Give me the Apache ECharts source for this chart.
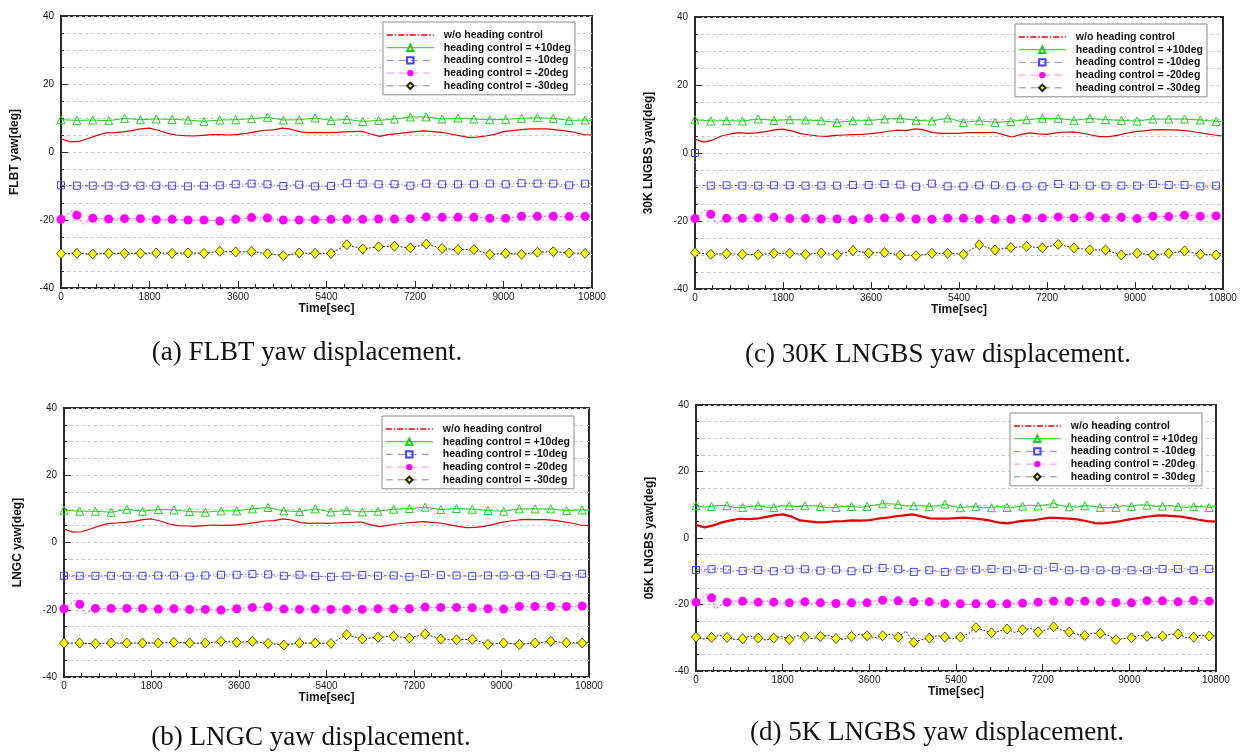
<!DOCTYPE html>
<html>
<head>
<meta charset="utf-8">
<script src="https://cdn.jsdelivr.net/npm/echarts@6/dist/echarts.min.js"></script>
<style>
html,body{margin:0;padding:0;background:#fff}
#chart{width:1242px;height:752px}
</style>
</head>
<body>
<div id="chart"></div>
<script>
// ---- sample times (s) ----
const markT = [0,323,646,969,1292,1615,1938,2261,2584,2907,3230,3553,3876,4199,4522,4845,5168,5491,5814,6137,6460,6783,7106,7429,7752,8075,8398,8721,9044,9367,9690,10013,10336,10659];
const midT = [161,484,807,1130,1453,1776,2099,2422,2745,3068,3391,3714,4037,4360,4683,5006,5329,5652,5975,6298,6621,6944,7267,7590,7913,8236,8559,8882,9205,9528,9851,10174,10497];
const redT = [0,180,360,540,720,900,1080,1260,1440,1620,1800,1980,2160,2340,2520,2700,2880,3060,3240,3420,3600,3780,3960,4140,4320,4500,4680,4860,5040,5220,5400,5580,5760,5940,6120,6300,6480,6660,6840,7020,7200,7380,7560,7740,7920,8100,8280,8460,8640,8820,9000,9180,9360,9540,9720,9900,10080,10260,10440,10620,10800];
const endT = 10800;

// ---- legend entries / axis titles / captions ----
const seriesNames = ['w/o heading control','heading control = +10deg','heading control = -10deg','heading control = -20deg','heading control = -30deg'];
const yTitles = ['FLBT yaw[deg]','LNGC yaw[deg]','30K LNGBS yaw[deg]','05K LNGBS yaw[deg]'];
const captions = ['(a) FLBT yaw displacement.','(b) LNGC yaw displacement.','(c) 30K LNGBS yaw displacement.','(d) 5K LNGBS yaw displacement.'];

// ---- (a) FLBT ----
const redA = [3.9,3.0,3.1,3.9,4.8,5.6,5.7,5.9,6.3,6.8,7.0,6.4,5.5,5.0,4.8,4.7,4.9,5.1,5.1,5.0,5.2,5.5,6.0,6.4,6.5,7.0,6.7,5.9,5.7,5.8,5.7,5.8,5.9,6.0,6.1,5.3,4.6,5.1,5.4,5.7,6.0,6.2,6.0,5.8,5.3,4.8,4.3,4.4,4.7,5.2,6.0,6.3,6.6,6.8,6.8,6.8,6.5,6.2,5.8,5.1,5.0];
const greenA = [9.5,9.3,9.4,9.2,9.9,9.5,9.7,9.6,9.4,9.0,9.4,9.5,9.8,10.2,9.4,9.5,10.0,9.3,9.6,9.0,9.3,9.7,10.3,10.3,9.7,10.0,9.7,9.5,9.6,9.9,10.1,9.9,9.3,9.4];
const blueA = [-9.8,-9.9,-9.9,-9.9,-9.9,-9.9,-9.9,-9.9,-10.1,-9.9,-9.8,-9.5,-9.3,-9.5,-10.0,-9.6,-10.1,-10.0,-9.2,-9.3,-9.5,-9.5,-9.9,-9.3,-9.5,-9.5,-9.5,-9.3,-9.5,-9.2,-9.3,-9.3,-9.8,-9.3];
const magentaA = [-19.8,-18.6,-19.5,-19.7,-19.6,-19.6,-19.9,-19.8,-20.0,-20.0,-20.3,-19.8,-19.3,-19.4,-20.0,-20.0,-19.9,-19.8,-19.8,-19.8,-19.7,-19.7,-19.6,-19.1,-19.2,-19.2,-19.2,-19.5,-19.5,-18.9,-18.9,-18.9,-19.0,-18.9];
const blackA = [-29.9,-29.8,-30.0,-29.8,-29.8,-29.8,-29.7,-29.8,-29.7,-29.8,-29.2,-29.4,-29.3,-29.9,-30.5,-29.7,-29.8,-29.8,-27.3,-28.5,-27.9,-27.7,-28.2,-27.1,-28.4,-28.7,-28.7,-30.1,-29.8,-30.1,-29.5,-29.3,-29.7,-29.8];
const magentaStartA = [[250,-17.0],[454,-21.2]];
const tailA = [9.3,-9.4,-18.9,-29.3];

// ---- (b) LNGC ----
const redB = [4.0,3.1,3.2,4.0,4.9,5.6,5.8,6.0,6.3,6.8,7.0,6.4,5.5,5.0,4.9,4.8,5.0,5.2,5.1,5.1,5.3,5.6,6.0,6.4,6.5,7.0,6.7,5.9,5.7,5.8,5.7,5.8,5.9,6.0,6.1,5.3,4.7,5.1,5.5,5.8,6.0,6.2,6.0,5.8,5.3,4.8,4.4,4.5,4.8,5.3,6.0,6.4,6.7,6.9,6.8,6.8,6.6,6.2,5.8,5.2,5.0];
const greenB = [9.6,9.3,9.3,9.0,9.9,9.3,9.8,9.7,9.2,9.0,9.4,9.4,10.0,10.4,9.4,9.2,10.0,9.1,9.5,9.1,9.3,9.9,10.1,10.5,9.8,10.1,9.9,9.5,9.3,10.0,10.0,10.0,9.5,9.7];
const blueB = [-9.9,-9.9,-9.9,-9.9,-9.9,-9.9,-9.8,-9.8,-10.1,-9.8,-9.6,-9.6,-9.4,-9.5,-9.9,-9.6,-10.0,-10.2,-9.9,-9.7,-9.9,-9.8,-10.2,-9.4,-9.7,-9.8,-10.0,-9.8,-9.8,-9.8,-9.8,-9.4,-10.0,-9.3];
const magentaB = [-19.7,-18.4,-19.6,-19.6,-19.6,-19.6,-19.8,-19.7,-19.9,-19.9,-20.1,-19.7,-19.3,-19.2,-19.8,-19.9,-19.8,-19.9,-19.9,-19.9,-19.7,-19.7,-19.7,-19.2,-19.3,-19.3,-19.4,-19.7,-19.8,-19.0,-19.0,-19.0,-19.0,-18.9];
const blackB = [-29.9,-29.9,-30.1,-29.9,-29.9,-29.9,-29.9,-29.7,-29.9,-29.9,-29.4,-29.7,-29.4,-30.0,-30.5,-29.9,-29.9,-30.0,-27.4,-28.7,-28.2,-27.9,-28.4,-27.2,-28.7,-28.9,-28.8,-30.3,-29.9,-30.3,-29.9,-29.4,-29.8,-29.9];
const magentaStartB = [[260,-16.9],[430,-21.2]];
const tailB = [9.6,-9.4,-18.9,-29.6];

// ---- (c) 30K LNGBS ----
const redC = [4.1,3.2,3.8,5.0,5.6,6.0,5.8,5.9,6.3,6.8,7.0,6.5,5.7,5.3,5.0,4.9,5.2,5.3,5.4,5.5,5.7,6.0,6.4,6.7,6.6,7.1,6.8,6.0,5.8,5.8,5.8,6.0,6.0,6.0,6.1,5.4,4.7,5.4,5.9,5.6,5.5,5.9,6.1,6.2,5.8,5.3,4.8,4.8,5.2,5.8,6.3,6.5,6.8,6.9,6.8,6.7,6.5,6.1,5.7,5.3,5.0];
const greenC = [9.8,9.4,9.5,9.4,10.0,9.6,9.8,9.7,9.5,9.0,9.5,9.5,10.0,10.2,9.6,9.4,10.3,9.0,9.5,9.0,9.3,9.8,10.2,10.2,9.6,10.2,9.8,9.6,9.4,10.0,10.0,10.0,9.7,9.3];
const blueC = [0,-9.6,-9.5,-9.6,-9.6,-9.5,-9.5,-9.6,-9.6,-9.6,-9.4,-9.4,-9.1,-9.3,-9.9,-9.0,-9.8,-9.8,-9.5,-9.5,-9.8,-9.8,-9.8,-9.1,-9.6,-9.6,-9.6,-9.6,-9.6,-9.1,-9.4,-9.4,-9.8,-9.6];
const magentaC = [-19.3,-18.0,-19.2,-19.2,-19.1,-18.9,-19.3,-19.3,-19.4,-19.4,-19.6,-19.3,-19.1,-19.0,-19.4,-19.5,-19.2,-19.2,-19.5,-19.5,-19.5,-19.2,-19.1,-18.8,-19.1,-18.7,-19.1,-18.9,-19.3,-18.6,-18.7,-18.3,-18.6,-18.5];
const blackC = [-29.3,-29.8,-29.6,-29.8,-29.9,-29.5,-29.5,-29.8,-29.4,-29.9,-28.7,-29.4,-29.3,-30.0,-30.2,-29.5,-29.5,-29.8,-27.0,-28.5,-27.8,-27.5,-27.9,-26.9,-27.9,-28.5,-28.5,-30.0,-29.5,-30.0,-29.5,-28.8,-29.8,-30.0];
const magentaStartC = [[225,-16.6],[443,-20.7]];
const blueStartC = [[3,-9.6]];
const tailC = [9.3,-9.6,-18.5,-29.3];

// ---- (d) 5K LNGBS ----
const redD = [3.9,3.2,3.8,4.7,5.3,5.8,5.7,5.8,6.3,6.8,7.1,6.5,5.3,5.0,4.7,4.8,5.0,5.1,5.3,5.2,5.4,5.8,6.1,6.5,6.8,7.1,6.5,5.9,5.8,5.8,6.0,6.1,5.9,5.6,5.2,4.6,4.4,4.9,5.2,5.4,5.8,6.1,6.0,5.8,5.6,5.1,4.5,4.4,4.7,5.1,5.6,6.0,6.4,6.7,6.8,6.6,6.4,6.0,5.5,5.1,4.9];
const greenD = [9.7,9.5,9.7,9.2,9.7,9.2,9.7,9.7,9.5,9.2,9.5,9.5,10.3,10.1,9.7,9.5,10.2,9.1,9.4,9.1,9.2,9.6,9.6,10.4,9.4,9.7,9.2,9.2,9.5,9.9,9.6,9.4,9.4,9.2];
const greenMidD = [9.3,9.8,9.2,9.5,9.3,9.6,9.4,9.7,9.1,9.5,9.2,9.9,10.3,9.6,9.7,9.6,9.5,9.4,9.1,9.5,9.3,9.9,10.0,9.7,9.3,9.6,9.1,9.7,10.0,9.5,9.7,9.2,9.5];
const blueD = [-9.6,-9.4,-9.5,-9.9,-9.6,-10.0,-9.5,-9.4,-9.8,-9.5,-10.0,-9.4,-9.0,-9.4,-10.2,-9.7,-10.2,-9.7,-9.5,-9.3,-9.7,-9.3,-9.7,-8.7,-9.7,-9.7,-9.7,-9.7,-9.7,-9.7,-9.3,-9.3,-9.7,-9.3];
const blueMidD = [-9.6,-9.2,-9.8,-9.3,-9.7,-9.4,-9.1,-9.6,-9.2,-9.7,-9.4,-9.0,-9.3,-9.8,-9.6,-9.9,-9.5,-9.3,-9.6,-9.1,-9.7,-9.3,-9.1,-9.5,-9.8,-9.4,-9.7,-9.3,-9.8,-9.1,-9.5,-9.3,-9.6];
const magentaD = [-19.3,-18.0,-19.3,-19.0,-19.3,-19.3,-19.5,-19.2,-19.5,-19.7,-19.5,-19.5,-18.7,-18.9,-19.2,-19.2,-19.7,-19.8,-19.8,-19.8,-19.8,-19.6,-19.3,-19.0,-19.1,-19.0,-19.2,-19.4,-19.5,-18.9,-18.9,-19.2,-18.8,-19.0];
const magentaMidD = [null,null,-19.0,-19.4,-19.0,-19.6,-19.2,-19.7,-19.4,-19.9,-19.3,-18.9,-18.6,-19.3,-18.9,-19.6,-19.5,-20.0,-19.6,-20.0,-19.5,-19.7,-18.9,-19.3,-18.8,-19.3,-19.1,-19.7,-18.6,-19.1,-18.8,-19.2,-18.8];
const blackD = [-29.8,-29.9,-29.9,-30.3,-30.1,-30.1,-30.5,-29.7,-29.6,-30.2,-29.6,-29.4,-29.4,-29.8,-31.4,-30.1,-29.8,-29.8,-26.9,-28.5,-27.4,-27.6,-28.2,-26.7,-28.3,-29.3,-28.7,-30.6,-30.0,-29.6,-29.5,-28.9,-29.8,-29.5];
const blackMidD = [-30.4,-29.3,-30.6,-29.5,-30.7,-29.6,-29.4,-30.3,-29.2,-30.5,-29.0,-30.0,-28.9,-28.0,-30.6,-29.4,-30.3,-28.8,-27.8,-28.0,-28.4,-27.2,-27.6,-27.7,-28.9,-28.6,-29.2,-30.3,-29.3,-30.1,-29.0,-29.9,-29.2];
const magentaStartD = [[228,-17.0],[395,-21.3]];
const tailD = [9.4,-9.3,-19.0,-29.5];

// ---- colours ----
const RED = '#e40000', GREEN = '#1fcf1f', BLUE = '#4343ff', MAGENTA = '#ff00ff', DARK = '#2a2a2a', YELLOW = '#ffff00';

// per-panel layout
const panels = [
  { grid:{left:61, top:16, width:531, height:272}, legend:{left:383, top:22}, cap:[307,353], yTitle:yTitles[0], caption:captions[0],
    red:redA, green:greenA, blue:blueA, magenta:magentaA, black:blackA, magStart:magentaStartA, tail:tailA, redW:1.2 },
  { grid:{left:64, top:408, width:525, height:269}, legend:{left:382, top:416}, cap:[311,738], yTitle:yTitles[1], caption:captions[1],
    red:redB, green:greenB, blue:blueB, magenta:magentaB, black:blackB, magStart:magentaStartB, tail:tailB, redW:1.2 },
  { grid:{left:695, top:17, width:528, height:272}, legend:{left:1015, top:24}, cap:[938,355], yTitle:yTitles[2], caption:captions[2],
    red:redC, green:greenC, blue:blueC, magenta:magentaC, black:blackC, magStart:magentaStartC, blueStart:blueStartC, tail:tailC, redW:1.2 },
  { grid:{left:696, top:405, width:520, height:266}, legend:{left:1010, top:413}, cap:[937,733], yTitle:yTitles[3], caption:captions[3],
    red:redD, green:greenD, blue:blueD, magenta:magentaD, black:blackD, magStart:magentaStartD, tail:tailD, redW:2.2,
    greenMid:greenMidD, blueMid:blueMidD, magentaMid:magentaMidD, blackMid:blackMidD }
];

// merge marker samples, unmarked extra samples and the end sample into one sorted trace
function trace(vals, tail, extras, mids) {
  const pts = markT.map((t, i) => ({ value: [t, vals[i]] }));
  (extras || []).forEach(e => pts.push({ value: e, symbol: 'none' }));
  (mids || []).forEach((v, i) => { if (v !== null) pts.push({ value: [midT[i], v], symbol: 'none' }); });
  pts.push({ value: [endT, tail], symbol: 'none' });
  pts.sort((a, b) => a.value[0] - b.value[0]);
  return pts;
}

const FONT = 'Liberation Sans, Arial, sans-serif';
const plain = v => String(v);
const grids = [], xAxes = [], yAxes = [], legends = [], series = [], graphics = [];

panels.forEach((p, k) => {
  grids.push(Object.assign({ show: true, borderColor: '#2b2b2b', borderWidth: 2, backgroundColor: '#fff', containLabel: false }, p.grid));
  xAxes.push({
    type: 'value', gridIndex: k, min: 0, max: 10800, interval: 1800,
    name: 'Time[sec]', nameLocation: 'middle', nameGap: 13,
    nameTextStyle: { fontFamily: FONT, fontWeight: 'bold', fontSize: 12, color: '#111' },
    axisLine: { show: false, onZero: false },
    axisTick: { show: true, inside: true, length: 7, lineStyle: { color: '#2b2b2b', width: 1 } },
    minorTick: { show: true, splitNumber: 5, length: 4, lineStyle: { color: '#2b2b2b', width: 1 } },
    axisLabel: { fontFamily: FONT, fontSize: 10, color: '#1a1a1a', margin: 4, formatter: plain },
    splitLine: { show: false }
  });
  yAxes.push({
    type: 'value', gridIndex: k, min: -40, max: 40, interval: 20,
    name: p.yTitle, nameLocation: 'middle', nameRotate: 90, nameGap: 40,
    nameTextStyle: { fontFamily: FONT, fontWeight: 'bold', fontSize: 12, color: '#111' },
    axisLine: { show: false, onZero: false },
    axisTick: { show: true, inside: true, length: 7, lineStyle: { color: '#2b2b2b', width: 1 } },
    minorTick: { show: true, splitNumber: 4, length: 3, lineStyle: { color: '#2b2b2b', width: 1 } },
    axisLabel: { fontFamily: FONT, fontSize: 10, color: '#1a1a1a', margin: 7, formatter: plain },
    splitLine: { show: true, lineStyle: { color: '#c9c9c9', width: 1, type: [3, 3] } },
    minorSplitLine: { show: true, lineStyle: { color: '#c9c9c9', width: 1, type: [3, 3] } }
  });
  legends.push({
    orient: 'vertical', left: p.legend.left, top: p.legend.top,
    itemWidth: 47, itemHeight: 8, itemGap: 0.7,
    padding: [7, 4, 3, 3],
    backgroundColor: '#fff', borderColor: '#8a8a8a', borderWidth: 1,
    selectedMode: false,
    textStyle: { fontFamily: FONT, fontWeight: 'bold', fontSize: 10.5, color: '#111', lineHeight: 12, padding: [0, 0, 0, 5] },
    data: [
      { name: seriesNames[0], lineStyle: { type: [6, 2, 1.5, 2], width: 1.6, color: RED }, itemStyle: { color: 'rgba(0,0,0,0)', borderColor: 'rgba(0,0,0,0)' } },
      { name: seriesNames[1], lineStyle: { type: 'solid', width: 1, color: GREEN } },
      { name: seriesNames[2], lineStyle: { type: [7, 5], width: 1, color: '#8585ff' } },
      { name: seriesNames[3], lineStyle: { type: [7, 5], width: 1, color: '#ff88ff' } },
      { name: seriesNames[4], lineStyle: { type: [7, 5], width: 1, color: '#8c8c8c' } }
    ]
  });

  const common = { type: 'line', xAxisIndex: k, yAxisIndex: k, showAllSymbol: true, animation: false, silent: true };
  series.push(Object.assign({}, common, {
    name: seriesNames[0], symbol: 'none', z: 4,
    data: redT.map((t, i) => [t, p.red[i]]),
    lineStyle: { color: RED, width: p.redW }, itemStyle: { color: RED }
  }));
  series.push(Object.assign({}, common, {
    name: seriesNames[1], symbol: 'triangle', symbolSize: 8, z: 3,
    data: trace(p.green, p.tail[0], null, p.greenMid),
    lineStyle: { color: GREEN, width: 1 },
    itemStyle: { color: 'rgba(255,255,255,0)', borderColor: GREEN, borderWidth: 1 }
  }));
  series.push(Object.assign({}, common, {
    name: seriesNames[2], symbol: 'rect', symbolSize: 7, z: 3,
    data: trace(p.blue, p.tail[1], p.blueStart, p.blueMid),
    lineStyle: { color: '#5a5aff', width: 1, type: [3, 2, 1, 2] },
    itemStyle: { color: 'rgba(255,255,255,0)', borderColor: BLUE, borderWidth: 1 }
  }));
  series.push(Object.assign({}, common, {
    name: seriesNames[3], symbol: 'circle', symbolSize: 9, z: 3,
    data: trace(p.magenta, p.tail[2], p.magStart, p.magentaMid),
    lineStyle: { color: '#ff40ff', width: 1, type: [2, 2] },
    itemStyle: { color: MAGENTA, borderColor: MAGENTA, borderWidth: 0 }
  }));
  series.push(Object.assign({}, common, {
    name: seriesNames[4], symbol: 'diamond', symbolSize: [9, 10], z: 3,
    data: trace(p.black, p.tail[3], null, p.blackMid),
    lineStyle: { color: DARK, width: 1, type: [2, 1.5] },
    itemStyle: { color: YELLOW, borderColor: '#222', borderWidth: 0.8 }
  }));

  graphics.push({
    type: 'text', x: p.cap[0], y: p.cap[1], silent: true,
    style: { text: p.caption, fontFamily: 'Liberation Serif, Times New Roman, serif', fontSize: 27, fill: '#111', align: 'center', verticalAlign: 'middle' }
  });
});

const chart = echarts.init(document.getElementById('chart'), null, { renderer: 'canvas' });
chart.setOption({
  backgroundColor: '#fff',
  animation: false,
  textStyle: { fontFamily: FONT },
  grid: grids, xAxis: xAxes, yAxis: yAxes, legend: legends, series: series, graphic: graphics
});
</script>
</body>
</html>
